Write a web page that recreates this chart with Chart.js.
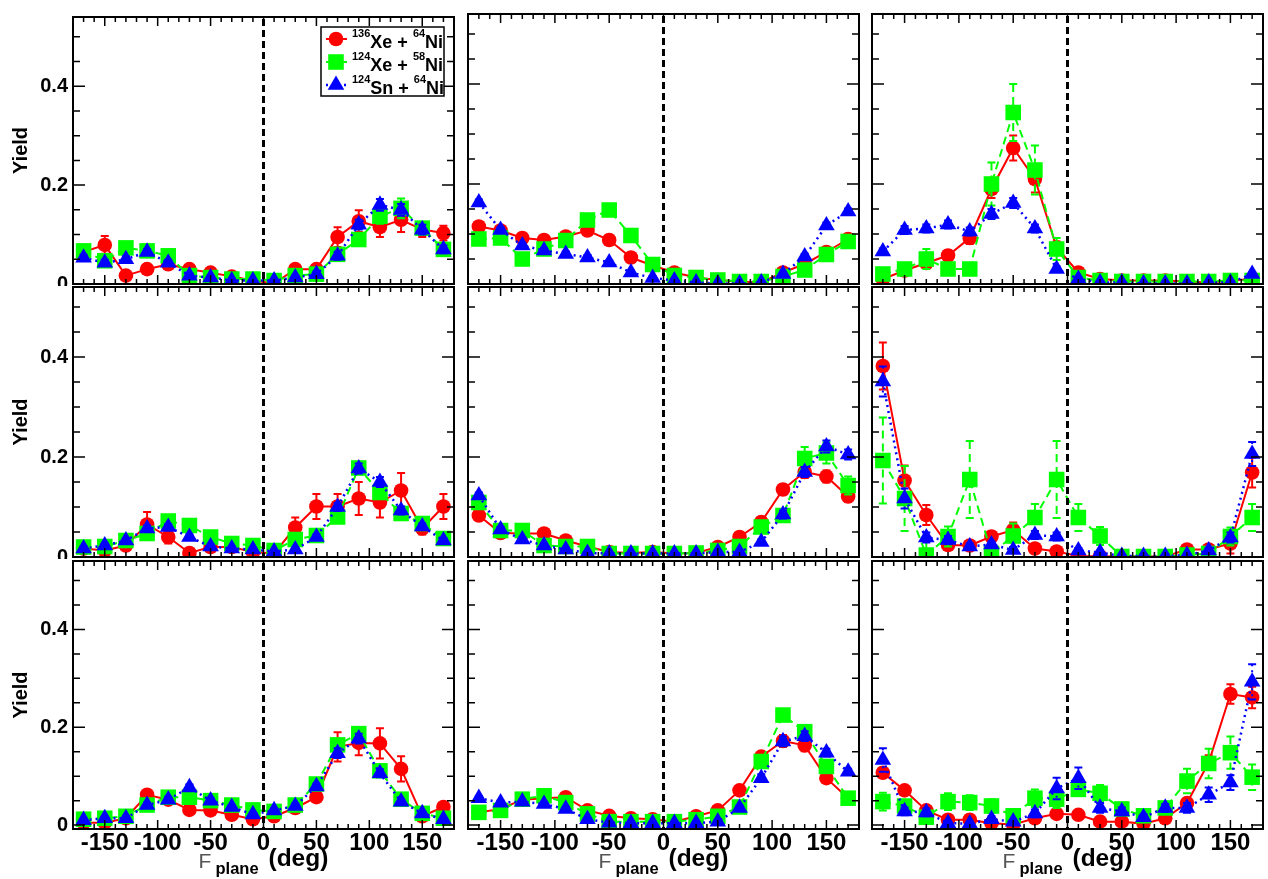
<!DOCTYPE html>
<html>
<head>
<meta charset="utf-8">
<script src="https://cdn.jsdelivr.net/npm/chart.js@4.4.1/dist/chart.umd.min.js"></script>
<style>
  html, body { margin: 0; padding: 0; background: #fff; }
  #wrap { position: relative; width: 1268px; height: 879px; }
  #wrap canvas { position: absolute; left: 0; top: 0; }
</style>
</head>
<body>
<div id="wrap"></div>
<script>
// angles of the bins (deg)
const angles = [-170, -150, -130, -110, -90, -70, -50, -30, -10, 10, 30, 50, 70, 90, 110, 130, 150, 170];
const xTicks = [-150, -100, -50, 0, 50, 100, 150];
const yTicks = [0, 0.2, 0.4];

// legend text: [mass1, element1, mass2, element2]
const reactions = [['136', 'Xe', '64', 'Ni'], ['124', 'Xe', '58', 'Ni'], ['124', 'Sn', '64', 'Ni']];

// panel 1 (top left)
const xe136_p1 = [0.065, 0.079, 0.017, 0.030, 0.040, 0.030, 0.023, 0.015, 0.007, 0.001, 0.030, 0.030, 0.095, 0.127, 0.115, 0.130, 0.110, 0.103];
const xe124_p1 = [0.067, 0.047, 0.073, 0.067, 0.057, 0.017, 0.013, 0.010, 0.010, 0.007, 0.017, 0.020, 0.060, 0.090, 0.137, 0.153, 0.113, 0.070];
const sn124_p1 = [0.053, 0.043, 0.050, 0.065, 0.043, 0.017, 0.013, 0.007, 0.007, 0.007, 0.013, 0.020, 0.057, 0.120, 0.160, 0.150, 0.110, 0.070];
const xe136Err_p1 = [0.010, 0.018, 0.008, 0.008, 0.008, 0.008, 0.006, 0.005, 0.004, 0.003, 0.008, 0.008, 0.020, 0.022, 0.020, 0.025, 0.015, 0.015];
const xe124Err_p1 = [0.008, 0.008, 0.008, 0.008, 0.008, 0.005, 0.004, 0.004, 0.004, 0.003, 0.005, 0.006, 0.010, 0.012, 0.015, 0.020, 0.012, 0.010];
const sn124Err_p1 = [0.006, 0.006, 0.006, 0.006, 0.006, 0.004, 0.003, 0.003, 0.003, 0.003, 0.004, 0.005, 0.008, 0.010, 0.012, 0.012, 0.010, 0.008];

// panel 2 (top middle)
const xe136_p2 = [0.115, 0.107, 0.092, 0.088, 0.095, 0.107, 0.088, 0.053, 0.037, 0.023, 0.013, 0.008, 0.005, 0.003, 0.023, 0.040, 0.064, 0.090];
const xe124_p2 = [0.090, 0.092, 0.050, 0.070, 0.087, 0.128, 0.148, 0.097, 0.039, 0.017, 0.013, 0.008, 0.005, 0.005, 0.015, 0.028, 0.059, 0.085];
const sn124_p2 = [0.163, 0.108, 0.077, 0.067, 0.060, 0.053, 0.043, 0.023, 0.012, 0.007, 0.003, 0.001, 0.001, 0.003, 0.020, 0.055, 0.117, 0.145];
const xe136Err_p2 = [0.008, 0.008, 0.008, 0.008, 0.008, 0.008, 0.008, 0.006, 0.005, 0.004, 0.003, 0.003, 0.003, 0.003, 0.004, 0.006, 0.008, 0.008];
const xe124Err_p2 = [0.006, 0.006, 0.006, 0.006, 0.006, 0.008, 0.008, 0.006, 0.005, 0.004, 0.003, 0.003, 0.003, 0.003, 0.004, 0.005, 0.006, 0.006];
const sn124Err_p2 = [0.006, 0.005, 0.005, 0.005, 0.005, 0.005, 0.004, 0.004, 0.003, 0.003, 0.002, 0.002, 0.002, 0.002, 0.003, 0.005, 0.006, 0.006];

// panel 3 (top right)
const xe136_p3 = [0.010, 0.027, 0.042, 0.057, 0.092, 0.190, 0.272, 0.210, 0.073, 0.023, 0.010, 0.007, 0.007, 0.007, 0.005, 0.003, 0.007, 0.010];
const xe124_p3 = [0.020, 0.030, 0.050, 0.030, 0.030, 0.200, 0.343, 0.228, 0.070, 0.013, 0.007, 0.005, 0.005, 0.005, 0.005, 0.005, 0.007, 0.007];
const sn124_p3 = [0.065, 0.108, 0.111, 0.119, 0.105, 0.140, 0.162, 0.111, 0.030, 0.010, 0.003, 0.003, 0.001, 0.001, 0.001, 0.003, 0.003, 0.020];
const xe136Err_p3 = [0.006, 0.008, 0.010, 0.010, 0.012, 0.018, 0.025, 0.027, 0.012, 0.005, 0.003, 0.003, 0.003, 0.003, 0.003, 0.003, 0.003, 0.003];
const xe124Err_p3 = [0.010, 0.012, 0.020, 0.012, 0.012, 0.043, 0.057, 0.049, 0.022, 0.006, 0.003, 0.003, 0.003, 0.003, 0.003, 0.003, 0.003, 0.003];
const sn124Err_p3 = [0.006, 0.008, 0.008, 0.008, 0.008, 0.010, 0.010, 0.008, 0.005, 0.003, 0.002, 0.002, 0.002, 0.002, 0.002, 0.002, 0.002, 0.004];

// panel 4 (middle left)
const xe136_p4 = [0.017, 0.013, 0.023, 0.065, 0.040, 0.008, 0.020, 0.020, 0.010, 0.007, 0.059, 0.101, 0.101, 0.117, 0.109, 0.133, 0.057, 0.101];
const xe124_p4 = [0.020, 0.021, 0.033, 0.047, 0.072, 0.063, 0.040, 0.027, 0.023, 0.013, 0.035, 0.043, 0.080, 0.178, 0.129, 0.087, 0.067, 0.037];
const sn124_p4 = [0.017, 0.023, 0.033, 0.057, 0.060, 0.040, 0.021, 0.017, 0.015, 0.011, 0.015, 0.040, 0.100, 0.177, 0.150, 0.093, 0.061, 0.033];
const xe136Err_p4 = [0.006, 0.006, 0.008, 0.025, 0.013, 0.006, 0.008, 0.008, 0.006, 0.005, 0.020, 0.025, 0.025, 0.033, 0.030, 0.035, 0.012, 0.025];
const xe124Err_p4 = [0.005, 0.005, 0.006, 0.008, 0.010, 0.010, 0.008, 0.006, 0.006, 0.005, 0.008, 0.008, 0.010, 0.012, 0.012, 0.010, 0.008, 0.006];
const sn124Err_p4 = [0.004, 0.004, 0.005, 0.006, 0.006, 0.005, 0.004, 0.004, 0.004, 0.003, 0.004, 0.005, 0.008, 0.010, 0.010, 0.008, 0.006, 0.005];

// panel 5 (middle middle)
const xe136_p5 = [0.083, 0.048, 0.047, 0.047, 0.033, 0.021, 0.010, 0.008, 0.010, 0.007, 0.008, 0.020, 0.040, 0.070, 0.135, 0.170, 0.161, 0.121];
const xe124_p5 = [0.109, 0.053, 0.053, 0.023, 0.021, 0.021, 0.007, 0.007, 0.007, 0.007, 0.008, 0.013, 0.021, 0.060, 0.083, 0.197, 0.208, 0.143];
const sn124_p5 = [0.123, 0.055, 0.035, 0.023, 0.015, 0.008, 0.007, 0.007, 0.007, 0.007, 0.007, 0.010, 0.010, 0.030, 0.085, 0.170, 0.221, 0.205];
const xe136Err_p5 = [0.008, 0.006, 0.006, 0.006, 0.005, 0.004, 0.003, 0.003, 0.003, 0.003, 0.003, 0.004, 0.006, 0.008, 0.010, 0.012, 0.012, 0.010];
const xe124Err_p5 = [0.008, 0.006, 0.006, 0.005, 0.005, 0.005, 0.003, 0.003, 0.003, 0.003, 0.003, 0.004, 0.005, 0.008, 0.010, 0.023, 0.021, 0.018];
const sn124Err_p5 = [0.006, 0.005, 0.004, 0.004, 0.003, 0.003, 0.002, 0.002, 0.002, 0.002, 0.002, 0.003, 0.003, 0.005, 0.008, 0.010, 0.012, 0.010];

// panel 6 (middle right)
const xe136_p6 = [0.382, 0.153, 0.084, 0.024, 0.023, 0.041, 0.054, 0.017, 0.011, 0.002, 0.001, 0.001, 0.001, 0.001, 0.015, 0.015, 0.027, 0.169];
const xe124_p6 = [0.193, 0.117, 0.004, 0.041, 0.155, 0.007, 0.042, 0.079, 0.155, 0.079, 0.042, 0.001, 0.001, 0.001, 0.004, 0.007, 0.041, 0.079];
const sn124_p6 = [0.351, 0.117, 0.039, 0.034, 0.021, 0.025, 0.014, 0.044, 0.041, 0.013, 0.009, 0.002, 0.002, 0.002, 0.004, 0.013, 0.039, 0.206];
const xe136Err_p6 = [0.047, 0.030, 0.020, 0.010, 0.008, 0.010, 0.015, 0.008, 0.006, 0.003, 0.003, 0.003, 0.003, 0.003, 0.006, 0.006, 0.020, 0.030];
const xe124Err_p6 = [0.086, 0.065, 0.030, 0.020, 0.077, 0.015, 0.025, 0.027, 0.077, 0.027, 0.018, 0.005, 0.005, 0.005, 0.008, 0.010, 0.018, 0.027];
const sn124Err_p6 = [0.030, 0.020, 0.010, 0.008, 0.006, 0.006, 0.006, 0.008, 0.008, 0.005, 0.004, 0.003, 0.003, 0.003, 0.003, 0.005, 0.010, 0.024];

// panel 7 (bottom left)
const xe136_p7 = [0.005, 0.005, 0.014, 0.062, 0.052, 0.031, 0.030, 0.021, 0.012, 0.018, 0.035, 0.057, 0.160, 0.168, 0.167, 0.115, 0.018, 0.037];
const xe124_p7 = [0.012, 0.014, 0.018, 0.041, 0.057, 0.057, 0.050, 0.041, 0.031, 0.028, 0.041, 0.084, 0.164, 0.187, 0.111, 0.053, 0.024, 0.014];
const sn124_p7 = [0.010, 0.014, 0.014, 0.041, 0.052, 0.077, 0.050, 0.037, 0.022, 0.030, 0.039, 0.079, 0.147, 0.177, 0.106, 0.048, 0.024, 0.012];
const xe136Err_p7 = [0.004, 0.004, 0.006, 0.010, 0.008, 0.006, 0.006, 0.005, 0.005, 0.005, 0.006, 0.010, 0.030, 0.025, 0.031, 0.026, 0.006, 0.008];
const xe124Err_p7 = [0.004, 0.004, 0.005, 0.006, 0.008, 0.008, 0.006, 0.006, 0.005, 0.005, 0.006, 0.008, 0.012, 0.012, 0.010, 0.006, 0.005, 0.004];
const sn124Err_p7 = [0.003, 0.003, 0.004, 0.005, 0.006, 0.006, 0.005, 0.004, 0.004, 0.004, 0.005, 0.006, 0.010, 0.010, 0.008, 0.005, 0.004, 0.003];

// panel 8 (bottom middle)
const xe136_p8 = [0.026, 0.033, 0.052, 0.055, 0.057, 0.030, 0.019, 0.014, 0.012, 0.007, 0.018, 0.030, 0.071, 0.140, 0.172, 0.163, 0.096, 0.055];
const xe124_p8 = [0.026, 0.030, 0.053, 0.060, 0.046, 0.023, 0.007, 0.007, 0.007, 0.007, 0.011, 0.018, 0.037, 0.130, 0.225, 0.191, 0.120, 0.055];
const sn124_p8 = [0.055, 0.046, 0.048, 0.043, 0.033, 0.012, 0.005, 0.004, 0.004, 0.004, 0.004, 0.007, 0.035, 0.096, 0.171, 0.182, 0.148, 0.109];
const xe136Err_p8 = [0.005, 0.005, 0.006, 0.006, 0.006, 0.005, 0.004, 0.003, 0.003, 0.003, 0.004, 0.005, 0.008, 0.010, 0.012, 0.012, 0.010, 0.008];
const xe124Err_p8 = [0.005, 0.005, 0.006, 0.006, 0.006, 0.005, 0.003, 0.003, 0.003, 0.003, 0.003, 0.004, 0.006, 0.010, 0.012, 0.012, 0.010, 0.008];
const sn124Err_p8 = [0.004, 0.004, 0.004, 0.004, 0.004, 0.003, 0.002, 0.002, 0.002, 0.002, 0.002, 0.003, 0.005, 0.008, 0.010, 0.010, 0.008, 0.006];

// panel 9 (bottom right)
const xe136_p9 = [0.107, 0.071, 0.030, 0.011, 0.011, 0.004, 0.001, 0.014, 0.023, 0.021, 0.007, 0.007, 0.003, 0.014, 0.045, 0.128, 0.268, 0.261];
const xe124_p9 = [0.048, 0.039, 0.016, 0.048, 0.046, 0.039, 0.019, 0.055, 0.053, 0.073, 0.065, 0.033, 0.019, 0.035, 0.090, 0.126, 0.148, 0.098];
const sn124_p9 = [0.133, 0.028, 0.026, 0.004, 0.003, 0.012, 0.007, 0.024, 0.075, 0.096, 0.035, 0.028, 0.016, 0.035, 0.035, 0.062, 0.087, 0.293];
const xe136Err_p9 = [0.010, 0.008, 0.006, 0.004, 0.004, 0.003, 0.003, 0.004, 0.005, 0.005, 0.003, 0.003, 0.003, 0.004, 0.008, 0.015, 0.020, 0.022];
const xe124Err_p9 = [0.018, 0.012, 0.010, 0.017, 0.015, 0.014, 0.012, 0.018, 0.018, 0.011, 0.017, 0.012, 0.010, 0.012, 0.025, 0.030, 0.033, 0.026];
const sn124Err_p9 = [0.024, 0.008, 0.008, 0.004, 0.004, 0.006, 0.005, 0.008, 0.022, 0.022, 0.010, 0.008, 0.006, 0.008, 0.010, 0.015, 0.015, 0.036];

const panels = [
  [xe136_p1, xe124_p1, sn124_p1, xe136Err_p1, xe124Err_p1, sn124Err_p1],
  [xe136_p2, xe124_p2, sn124_p2, xe136Err_p2, xe124Err_p2, sn124Err_p2],
  [xe136_p3, xe124_p3, sn124_p3, xe136Err_p3, xe124Err_p3, sn124Err_p3],
  [xe136_p4, xe124_p4, sn124_p4, xe136Err_p4, xe124Err_p4, sn124Err_p4],
  [xe136_p5, xe124_p5, sn124_p5, xe136Err_p5, xe124Err_p5, sn124Err_p5],
  [xe136_p6, xe124_p6, sn124_p6, xe136Err_p6, xe124Err_p6, sn124Err_p6],
  [xe136_p7, xe124_p7, sn124_p7, xe136Err_p7, xe124Err_p7, sn124Err_p7],
  [xe136_p8, xe124_p8, sn124_p8, xe136Err_p8, xe124Err_p8, sn124Err_p8],
  [xe136_p9, xe124_p9, sn124_p9, xe136Err_p9, xe124Err_p9, sn124Err_p9]
];

// page layout (pixels)
const W = 1268, H = 879;
const colLeft = [73, 468, 872], colRight = [454, 859, 1263];
const rowTop = [14, 287, 561], rowBottom = [284, 557, 829];
// opaque pad areas, like ROOT sub-pads
const padX = [0, 461, 865, 1268], padY = [0, 286, 559, 879];
const rowMin = [0, 0, -0.008];
const Y_MAX = 0.54;
const FONT = '"Liberation Sans", Arial, Helvetica, sans-serif';

// series styles
const styles = [
  { color: '#ff0000', shape: 'circle', radius: 7.3, dash: [], width: 2, order: 3 },
  { color: '#00ff00', shape: 'rect', radius: 11, dash: [8, 5], width: 2, order: 2 },
  { color: '#0000ff', shape: 'triangle', radius: 9.6, dash: [2, 4], width: 2.5, order: 1 }
];

function drawMarker(ctx, shape, r, x, y) {
  ctx.beginPath();
  if (shape === 'circle') {
    ctx.arc(x, y, r, 0, Math.PI * 2);
  } else if (shape === 'rect') {
    const s = r * Math.SQRT1_2;
    ctx.rect(x - s, y - s, 2 * s, 2 * s);
  } else {
    ctx.moveTo(x, y - r);
    ctx.lineTo(x + 0.866 * r, y + 0.5 * r);
    ctx.lineTo(x - 0.866 * r, y + 0.5 * r);
    ctx.closePath();
  }
  ctx.fill();
}

// ROOT-like decorations: pad background, error bars, frame with inward ticks,
// dashed x=0 line, legend, x title
const rootDecor = {
  id: 'rootDecor',
  beforeDraw(chart, args, opts) {
    const ctx = chart.ctx;
    ctx.save();
    ctx.fillStyle = '#fff';
    ctx.fillRect(padX[opts.col], padY[opts.row], padX[opts.col + 1] - padX[opts.col], padY[opts.row + 1] - padY[opts.row]);
    ctx.restore();
  },
  beforeDatasetDraw(chart, args) {
    const ds = chart.data.datasets[args.index];
    const area = chart.chartArea, y = chart.scales.y, ctx = chart.ctx;
    ctx.save();
    ctx.beginPath();
    ctx.rect(area.left, area.top, area.width, area.height);
    ctx.clip();
    ctx.strokeStyle = ds.borderColor;
    ctx.lineWidth = 2;
    args.meta.data.forEach((pt, i) => {
      const v = ds.data[i].y, e = ds.errors[i];
      const y1 = y.getPixelForValue(v + e), y2 = y.getPixelForValue(v - e);
      ctx.setLineDash(ds.borderDash);
      ctx.beginPath();
      ctx.moveTo(pt.x, y1);
      ctx.lineTo(pt.x, y2);
      ctx.stroke();
      ctx.setLineDash([]);
      ctx.beginPath();
      ctx.moveTo(pt.x - 4, y1); ctx.lineTo(pt.x + 4, y1);
      ctx.moveTo(pt.x - 4, y2); ctx.lineTo(pt.x + 4, y2);
      ctx.stroke();
    });
    ctx.restore();
  },
  afterDatasetsDraw(chart) {
    const ctx = chart.ctx, a = chart.chartArea;
    const x = chart.scales.x, y = chart.scales.y;
    ctx.save();
    // dashed line at 0 deg
    const x0 = x.getPixelForValue(0);
    ctx.strokeStyle = '#000';
    ctx.lineWidth = 3;
    ctx.setLineDash([7, 4]);
    ctx.beginPath();
    ctx.moveTo(x0, a.top + 2);
    ctx.lineTo(x0, a.bottom);
    ctx.stroke();
    ctx.setLineDash([]);
    // ticks
    ctx.lineWidth = 1.5;
    ctx.beginPath();
    for (let v = -170; v <= 170; v += 10) {
      const px = x.getPixelForValue(v);
      const len = xTicks.includes(v) ? 9 : 5;
      ctx.moveTo(px, a.bottom); ctx.lineTo(px, a.bottom - len);
      ctx.moveTo(px, a.top); ctx.lineTo(px, a.top + len);
    }
    for (let k = 0; k <= 10; k++) {
      const py = y.getPixelForValue(k * 0.05);
      const len = k % 4 === 0 ? 12 : 7;
      ctx.moveTo(a.left, py); ctx.lineTo(a.left + len, py);
      ctx.moveTo(a.right, py); ctx.lineTo(a.right - len, py);
    }
    ctx.stroke();
    // frame
    ctx.lineWidth = 2;
    ctx.strokeRect(a.left, a.top, a.width, a.height);
    ctx.restore();
  },
  afterDraw(chart, args, opts) {
    const ctx = chart.ctx;
    ctx.save();
    if (opts.legend) {
      ctx.fillStyle = '#fff';
      ctx.fillRect(321, 27, 123, 69);
      ctx.strokeStyle = '#000';
      ctx.lineWidth = 1.5;
      ctx.strokeRect(321, 27, 123, 69);
      const rowsY = [39, 62, 85];
      reactions.forEach((r, k) => {
        const st = styles[k], cy = rowsY[k];
        ctx.strokeStyle = st.color;
        ctx.lineWidth = st.width;
        ctx.setLineDash(st.dash);
        ctx.beginPath();
        ctx.moveTo(326, cy); ctx.lineTo(347, cy);
        ctx.stroke();
        ctx.setLineDash([]);
        ctx.fillStyle = st.color;
        drawMarker(ctx, st.shape, st.radius, 336, cy);
        ctx.fillStyle = '#000';
        ctx.textBaseline = 'alphabetic';
        ctx.textAlign = 'left';
        let tx = 352;
        const sup = 'bold 11px ' + FONT, main = 'bold 18px ' + FONT;
        [[r[0], sup], [r[1] + ' + ', main], [r[2], sup], [r[3], main]].forEach(([t, f]) => {
          ctx.font = f;
          ctx.fillText(t, tx, f === sup ? cy - 2 : cy + 9);
          tx += ctx.measureText(t).width;
        });
      });
    }
    if (opts.xTitle) {
      const x0 = chart.scales.x.getPixelForValue(0);
      ctx.textBaseline = 'alphabetic';
      ctx.textAlign = 'left';
      ctx.fillStyle = '#555';
      ctx.font = '21px ' + FONT;
      ctx.fillText('F', x0 - 65, 868);
      ctx.fillStyle = '#000';
      ctx.font = 'bold 16.5px ' + FONT;
      ctx.fillText('plane', x0 - 48, 874);
      ctx.font = 'bold 24.5px ' + FONT;
      ctx.fillText('(deg)', x0 + 5, 866);
    }
    ctx.restore();
  }
};

const wrap = document.getElementById('wrap');

panels.forEach((series, idx) => {
  const row = Math.floor(idx / 3), col = idx % 3;
  const frame = { l: colLeft[col], r: colRight[col], t: rowTop[row], b: rowBottom[row] };
  const showY = col === 0, showX = row === 2;

  const canvas = document.createElement('canvas');
  canvas.width = W;
  canvas.height = H;
  canvas.style.width = W + 'px';
  canvas.style.height = H + 'px';
  wrap.appendChild(canvas);

  const datasets = styles.map((st, k) => ({
    data: angles.map((a, i) => ({ x: a, y: series[k][i] })),
    errors: series[k + 3],
    order: st.order,
    borderColor: st.color,
    backgroundColor: st.color,
    borderWidth: st.width,
    borderDash: st.dash,
    pointStyle: st.shape,
    pointRadius: st.radius,
    pointBorderWidth: 0,
    pointBackgroundColor: st.color,
    tension: 0,
    fill: false
  }));

  new Chart(canvas, {
    type: 'line',
    data: { datasets },
    plugins: [rootDecor],
    options: {
      responsive: false,
      animation: false,
      devicePixelRatio: 1,
      events: [],
      layout: {
        autoPadding: false,
        padding: {
          left: showY ? 0 : frame.l,
          top: frame.t,
          right: W - frame.r,
          bottom: showX ? 0 : H - frame.b
        }
      },
      plugins: {
        legend: { display: false },
        tooltip: { enabled: false },
        rootDecor: { legend: idx === 0, xTitle: showX, row: row, col: col }
      },
      scales: {
        x: {
          type: 'linear',
          min: -180,
          max: 180,
          display: showX,
          afterBuildTicks: s => { s.ticks = xTicks.map(v => ({ value: v })); },
          afterFit: s => { s.height = showX ? H - frame.b : 0; },
          grid: { display: false, drawTicks: false },
          border: { display: false },
          ticks: {
            autoSkip: false,
            maxRotation: 0,
            padding: 0,
            color: '#000',
            font: { family: FONT, size: 24, weight: 'bold' },
            callback: v => String(v)
          }
        },
        y: {
          type: 'linear',
          min: rowMin[row],
          max: Y_MAX,
          display: showY,
          afterBuildTicks: s => { s.ticks = yTicks.map(v => ({ value: v })); },
          afterFit: s => { s.width = showY ? frame.l : 0; },
          grid: { display: false, drawTicks: false },
          border: { display: false },
          ticks: {
            padding: 5,
            color: '#000',
            font: { family: FONT, size: 20, weight: 'bold' },
            callback: v => (v === 0 ? '0' : v.toFixed(1))
          },
          title: {
            display: true,
            text: 'Yield',
            color: '#000',
            font: { family: FONT, size: 20, weight: 'bold' },
            padding: { top: 9, bottom: 0 }
          }
        }
      }
    }
  });
});
</script>
</body>
</html>
